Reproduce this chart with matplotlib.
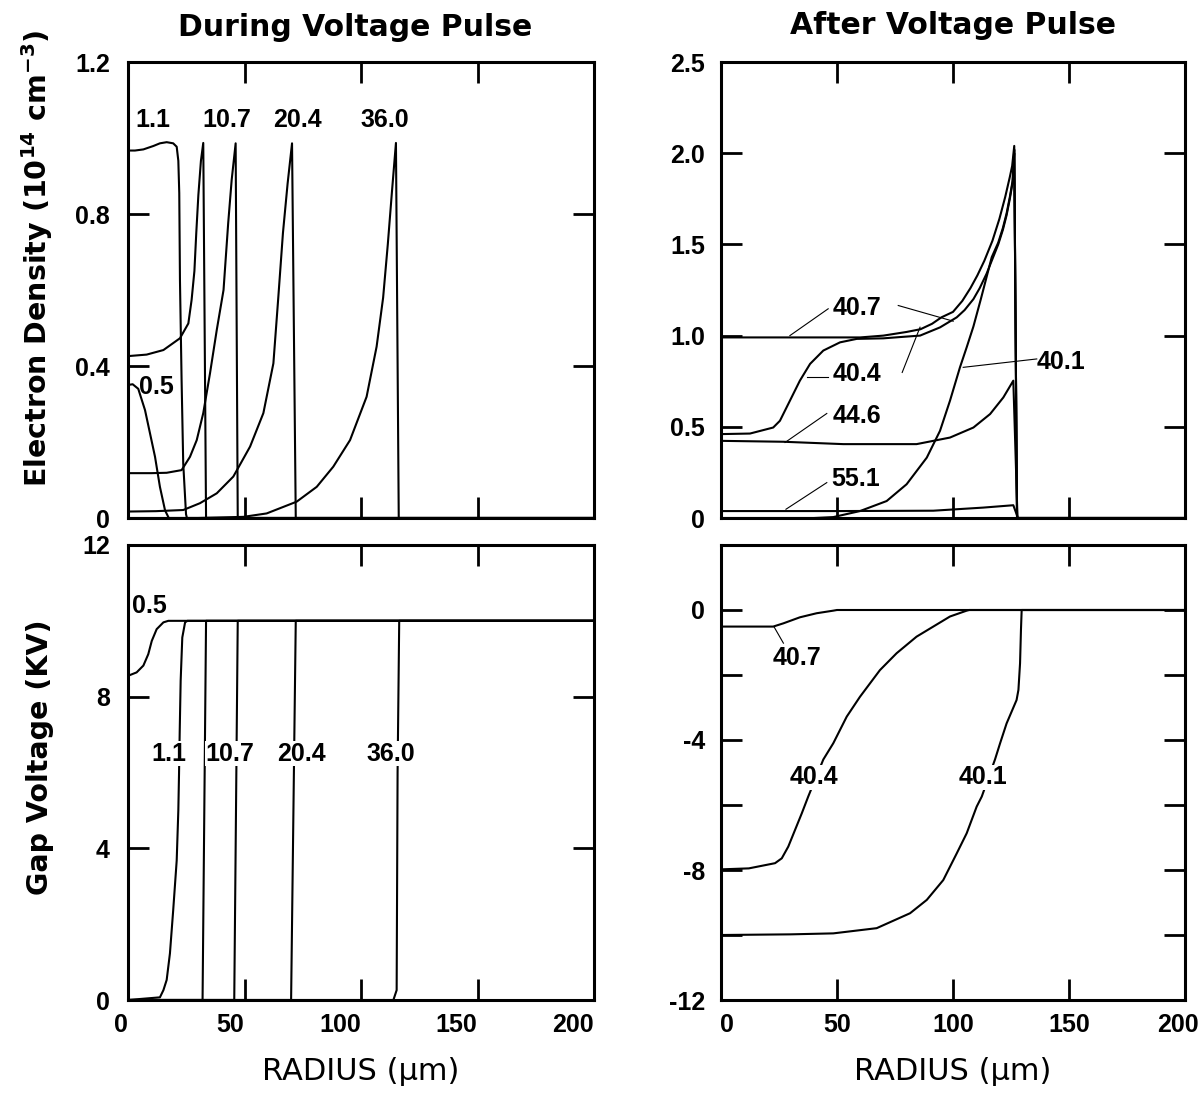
import matplotlib
matplotlib.use("Agg")
import matplotlib.pyplot as plt
from matplotlib.font_manager import FontProperties, findfont
from matplotlib.transforms import ScaledTranslation

# ---------------- data ----------------
radius_ticks = [0, 50, 100, 150, 200]
radius_ticklabels = ["0", "50", "100", "150", "200"]

# Top-left: electron density during the voltage pulse (1e14 cm^-3)
dens_dur_yticks = [0, 0.4, 0.8, 1.2]
dens_dur_yticklabels = ["0", "0.4", "0.8", "1.2"]
ne_dur_05_x = [0, 2, 4.4, 7.3, 9.4, 11.6, 13.7, 15.9, 17.5, 200]
ne_dur_05_y = [0.35, 0.352, 0.34, 0.284, 0.224, 0.161, 0.082, 0.02, 0, 0]
ne_dur_11_x = [0, 3, 6.6, 10.9, 13.7, 16.6, 19.4, 20.9, 21.6, 22.0, 22.3, 23.0, 23.7, 24.9, 25.3, 200]
ne_dur_11_y = [0.967, 0.967, 0.970, 0.979, 0.986, 0.989, 0.986, 0.977, 0.94, 0.855, 0.626, 0.363, 0.144, 0.01, 0, 0]
ne_dur_5_x = [0, 8, 15.2, 22.3, 25.9, 27.3, 28.5, 29.3, 30.2, 31.3, 32.3, 33.5, 200]
ne_dur_5_y = [0.426, 0.43, 0.442, 0.473, 0.512, 0.574, 0.65, 0.75, 0.85, 0.94, 0.987, 0, 0]
ne_dur_107_x = [0, 10, 16.6, 23, 26.6, 29.5, 32.3, 35.2, 38.1, 41, 43, 44.5, 46.2, 47.1, 200]
ne_dur_107_y = [0.118, 0.118, 0.119, 0.126, 0.161, 0.205, 0.276, 0.381, 0.495, 0.6, 0.776, 0.89, 0.986, 0, 0]
ne_dur_204_x = [0, 12, 23.7, 30.9, 38.1, 45.2, 52.4, 58.1, 62.4, 64.5, 66.5, 68.5, 70.4, 72.0, 200]
ne_dur_204_y = [0.017, 0.018, 0.021, 0.039, 0.065, 0.109, 0.188, 0.276, 0.407, 0.58, 0.75, 0.88, 0.986, 0, 0]
ne_dur_360_x = [0, 30, 49.5, 59.5, 72.4, 81, 88.1, 95.3, 102.4, 106.7, 109.5, 111.5, 113.3, 115, 116.2, 200]
ne_dur_360_y = [0, 0, 0.003, 0.012, 0.043, 0.082, 0.135, 0.205, 0.319, 0.451, 0.58, 0.72, 0.86, 0.987, 0, 0]
ne_dur_labels = ["0.5", "1.1", "10.7", "20.4", "36.0"]
ne_dur_label_x = [12.0, 10.7, 42.5, 72.7, 110.3]
ne_dur_label_y = [0.345, 1.047, 1.047, 1.047, 1.047]

# Bottom-left: gap voltage during the pulse (kV)
volt_dur_yticks = [0, 4, 8, 12]
volt_dur_yticklabels = ["0", "4", "8", "12"]
v_dur_05_x = [0, 3.7, 6.6, 8.7, 10.2, 12.3, 15.2, 17.3, 200]
v_dur_05_y = [8.55, 8.64, 8.82, 9.12, 9.47, 9.78, 9.96, 10.0, 10.0]
v_dur_11_x = [0, 13.7, 15.2, 16.6, 18.0, 19.4, 20.9, 21.6, 21.9, 22.2, 22.6, 23.3, 24.5, 25.5, 200]
v_dur_11_y = [0, 0.07, 0.26, 0.53, 1.23, 2.37, 3.68, 5.0, 5.97, 7.1, 8.42, 9.56, 9.96, 10, 10]
v_dur_5_x = [0, 32.0, 33.5, 200]
v_dur_5_y = [0, 0, 10, 10]
v_dur_107_x = [0, 45.6, 47.1, 200]
v_dur_107_y = [0, 0, 10, 10]
v_dur_204_x = [0, 70.0, 72.0, 200]
v_dur_204_y = [0, 0, 10, 10]
v_dur_360_x = [0, 113.9, 115.3, 115.7, 116.4, 200]
v_dur_360_y = [0, 0, 0.26, 6, 10, 10]
v_dur_labels = ["0.5", "1.1", "10.7", "20.4", "36.0"]
v_dur_label_x = [9.0, 17.6, 43.8, 74.5, 112.9]
v_dur_label_y = [10.39, 6.5, 6.5, 6.5, 6.5]

# Top-right: electron density after the pulse
dens_aft_yticks = [0, 0.5, 1.0, 1.5, 2.0, 2.5]
dens_aft_yticklabels = ["0", "0.5", "1.0", "1.5", "2.0", "2.5"]
ne_aft_407_x = [0, 60, 70, 80, 86, 91, 95, 100, 104, 107.5, 110.5, 113.5, 117, 120, 122.5, 124.5, 125.5, 126.4, 127.6, 200]
ne_aft_407_y = [0.99, 0.99, 1.0, 1.02, 1.035, 1.065, 1.10, 1.13, 1.19, 1.26, 1.33, 1.41, 1.52, 1.64, 1.76, 1.87, 1.93, 2.04, 0, 0]
ne_aft_404_x = [0, 12.5, 22.5, 25.4, 29.7, 34, 38.4, 44.1, 51.3, 58.5, 70, 77.2, 85.8, 94.4, 101.6, 105, 108.8, 111.5, 114.5, 117, 119.5, 121.5, 123.1, 124.5, 125.7, 126.4, 127.6, 200]
ne_aft_404_y = [0.46, 0.463, 0.496, 0.533, 0.643, 0.753, 0.845, 0.918, 0.963, 0.982, 0.985, 0.992, 1.0, 1.045, 1.10, 1.14, 1.20, 1.26, 1.34, 1.42, 1.50, 1.58, 1.66, 1.75, 1.84, 2.02, 0, 0]
ne_aft_401_x = [0, 40, 48.4, 59.9, 71.4, 80, 88.7, 94.4, 98.7, 103, 105.9, 108.8, 112, 116.7, 119.5, 121.5, 123.1, 124.5, 125.7, 126.4, 127.6, 200]
ne_aft_401_y = [0, 0, 0.005, 0.038, 0.093, 0.185, 0.331, 0.478, 0.643, 0.826, 0.936, 1.05, 1.20, 1.43, 1.51, 1.59, 1.67, 1.76, 1.85, 2.0, 0, 0]
ne_aft_446_x = [0, 26.9, 52.7, 84.3, 98.7, 108.8, 116, 121.7, 126, 127.8, 200]
ne_aft_446_y = [0.423, 0.418, 0.405, 0.405, 0.441, 0.496, 0.57, 0.661, 0.753, 0, 0]
ne_aft_551_x = [0, 50, 91.5, 113, 126, 128, 200]
ne_aft_551_y = [0.038, 0.038, 0.04, 0.057, 0.07, 0, 0]
ne_aft_labels = ["40.7", "40.4", "44.6", "55.1", "40.1"]
ne_aft_label_x = [58.8, 58.6, 58.6, 58.2, 146.6]
ne_aft_label_y = [1.154, 0.791, 0.56, 0.214, 0.857]
# leader lines: (x0, y0, x1, y1)
ne_aft_leaders = [
    (29.7, 1.0, 46.2, 1.147),
    (76.4, 1.165, 100.1, 1.079),
    (36.9, 0.775, 46.2, 0.775),
    (78.1, 0.798, 85.8, 1.046),
    (104.4, 0.826, 136.1, 0.872),
    (27.6, 0.414, 45.6, 0.573),
    (28.0, 0.048, 45.6, 0.194),
]

# Bottom-right: gap voltage after the pulse
volt_aft_yticks = [-12, -10, -8, -6, -4, -2, 0, 2]
volt_aft_yticklabels = ["-12", "", "-8", "", "-4", "", "0", ""]
v_aft_407_x = [0, 22.5, 26.9, 34, 41.2, 48.4, 50, 200]
v_aft_407_y = [-0.51, -0.51, -0.41, -0.225, -0.10, -0.02, 0, 0]
v_aft_404_x = [0, 12, 23.3, 26.2, 29, 31.9, 34.8, 37.6, 44.1, 48.4, 54.2, 59.9, 68.5, 75.7, 84.3, 91.5, 98.7, 105.9, 107, 200]
v_aft_404_y = [-7.98, -7.95, -7.79, -7.64, -7.28, -6.77, -6.26, -5.74, -4.6, -4.1, -3.28, -2.67, -1.85, -1.33, -0.82, -0.51, -0.2, -0.02, 0, 0]
v_aft_401_x = [0, 30, 48.4, 67.1, 81.5, 88.7, 95.8, 101.6, 105.9, 110.2, 112.4, 118.1, 120.3, 123.1, 127.4, 128.2, 128.9, 129.3, 129.6, 200]
v_aft_401_y = [-10.0, -9.98, -9.95, -9.79, -9.33, -8.92, -8.31, -7.49, -6.87, -6.05, -5.74, -4.6, -4.1, -3.49, -2.77, -2.46, -1.64, -0.6, 0, 0]
v_aft_labels = ["40.7", "40.4", "40.1"]
v_aft_label_x = [32.8, 39.9, 113.1]
v_aft_label_y = [-1.48, -5.15, -5.15]
v_aft_leaders = [(22.8, -0.51, 26.9, -1.02)]

# ---------------- fonts ----------------
def has_font(name):
    try:
        findfont(FontProperties(family=name, weight="bold"), fallback_to_default=False)
        return True
    except Exception:
        return False

if has_font("Liberation Sans Narrow"):
    NUM_FAMILY, NUM_SIZE = "Liberation Sans Narrow", 20
else:
    NUM_FAMILY, NUM_SIZE = "Liberation Sans", 18

plt.rcParams["mathtext.fontset"] = "dejavusans"

num_fp = FontProperties(family=NUM_FAMILY, weight="bold", size=NUM_SIZE)
LW = 1.5

fig = plt.figure(figsize=(12, 10.98), dpi=100)
W, H = 1200.0, 1098.0

def fx(px):
    return px / W

def fy(py):
    return 1 - py / H

ax_tl = fig.add_axes([fx(128), fy(518), (594 - 128) / W, (518 - 62) / H])
ax_bl = fig.add_axes([fx(128), fy(1000), (594 - 128) / W, (1000 - 545) / H])
ax_tr = fig.add_axes([fx(721), fy(518), (1185 - 721) / W, (518 - 62) / H])
ax_br = fig.add_axes([fx(721), fy(1000), (1185 - 721) / W, (1000 - 545) / H])


def style(ax, ylim, yticks, yticklabels, xlabels, ypad, xha):
    ax.set_xlim(0, 200)
    ax.set_ylim(*ylim)
    ax.set_xticks(radius_ticks)
    ax.set_yticks(yticks)
    ax.set_yticklabels(yticklabels)
    if xlabels:
        ax.set_xticklabels(radius_ticklabels)
    else:
        ax.set_xticklabels([])
    ax.tick_params(direction="in", length=15, width=2.0, top=True, right=True,
                   color="black")
    ax.tick_params(axis="y", pad=ypad)
    ax.tick_params(axis="x", pad=9)
    for lab in ax.get_xticklabels() + ax.get_yticklabels():
        lab.set_fontproperties(num_fp)
    for lab in ax.get_xticklabels():
        lab.set_ha(xha)
    for sp in ax.spines.values():
        sp.set_linewidth(2.2)


def put_labels(ax, labels, xs, ys, boxed):
    for t, x, y in zip(labels, xs, ys):
        kw = {}
        if boxed:
            kw["bbox"] = dict(facecolor="white", edgecolor="none", pad=0.5)
        ax.text(x, y, t, ha="center", va="center", fontproperties=num_fp, zorder=6, **kw)


def leaders(ax, segs):
    for x0, y0, x1, y1 in segs:
        ax.plot([x0, x1], [y0, y1], color="black", lw=0.8, zorder=4)


# Top-left
for xs, ys in [(ne_dur_05_x, ne_dur_05_y), (ne_dur_11_x, ne_dur_11_y),
               (ne_dur_5_x, ne_dur_5_y), (ne_dur_107_x, ne_dur_107_y),
               (ne_dur_204_x, ne_dur_204_y), (ne_dur_360_x, ne_dur_360_y)]:
    ax_tl.plot(xs, ys, color="black", lw=LW, solid_joinstyle="round")
put_labels(ax_tl, ne_dur_labels, ne_dur_label_x, ne_dur_label_y, False)
style(ax_tl, (0, 1.2), dens_dur_yticks, dens_dur_yticklabels, False, 13, "right")

# Bottom-left
for xs, ys in [(v_dur_05_x, v_dur_05_y), (v_dur_11_x, v_dur_11_y),
               (v_dur_5_x, v_dur_5_y), (v_dur_107_x, v_dur_107_y),
               (v_dur_204_x, v_dur_204_y), (v_dur_360_x, v_dur_360_y)]:
    ax_bl.plot(xs, ys, color="black", lw=LW, solid_joinstyle="round")
put_labels(ax_bl, v_dur_labels, v_dur_label_x, v_dur_label_y, True)
style(ax_bl, (0, 12), volt_dur_yticks, volt_dur_yticklabels, True, 13, "right")

# Top-right
for xs, ys in [(ne_aft_407_x, ne_aft_407_y), (ne_aft_404_x, ne_aft_404_y),
               (ne_aft_401_x, ne_aft_401_y), (ne_aft_446_x, ne_aft_446_y),
               (ne_aft_551_x, ne_aft_551_y)]:
    ax_tr.plot(xs, ys, color="black", lw=LW, solid_joinstyle="round")
leaders(ax_tr, ne_aft_leaders)
put_labels(ax_tr, ne_aft_labels, ne_aft_label_x, ne_aft_label_y, False)
style(ax_tr, (0, 2.5), dens_aft_yticks, dens_aft_yticklabels, False, 11.5, "center")

# Bottom-right
for xs, ys in [(v_aft_407_x, v_aft_407_y), (v_aft_404_x, v_aft_404_y),
               (v_aft_401_x, v_aft_401_y)]:
    ax_br.plot(xs, ys, color="black", lw=LW, solid_joinstyle="round")
leaders(ax_br, v_aft_leaders)
put_labels(ax_br, v_aft_labels, v_aft_label_x, v_aft_label_y, True)
style(ax_br, (-12, 2), volt_aft_yticks, volt_aft_yticklabels, True, 11.5, "center")

# nudge the end labels of the right-hand x axis inward, as in the reference
br_labels = ax_br.get_xticklabels()
br_labels[0].set_transform(br_labels[0].get_transform()
                           + ScaledTranslation(0.06, 0, fig.dpi_scale_trans))
br_labels[-1].set_transform(br_labels[-1].get_transform()
                            + ScaledTranslation(-0.07, 0, fig.dpi_scale_trans))

# Titles and axis labels
title_kw = dict(ha="center", va="center", family="DejaVu Sans", weight="bold", fontsize=21.5)
fig.text(fx(355), fy(28), "During Voltage Pulse", **title_kw)
fig.text(fx(953), fy(26), "After Voltage Pulse", **title_kw)

ylab_kw = dict(ha="center", va="center", family="DejaVu Sans", weight="bold",
               fontsize=20.5, rotation=90)
fig.text(fx(37), fy(258), r"Electron Density (10$^{\mathbf{14}}$ cm$^{\mathbf{-3}}$)", **ylab_kw)
fig.text(fx(40), fy(757), "Gap Voltage (KV)", **ylab_kw)

xlab_kw = dict(ha="center", va="center", family="DejaVu Sans", fontsize=22)
fig.text(fx(361), fy(1072), "RADIUS (\u03bcm)", **xlab_kw)
fig.text(fx(953), fy(1072), "RADIUS (\u03bcm)", **xlab_kw)

fig.savefig("out.png", dpi=100, facecolor="white")
